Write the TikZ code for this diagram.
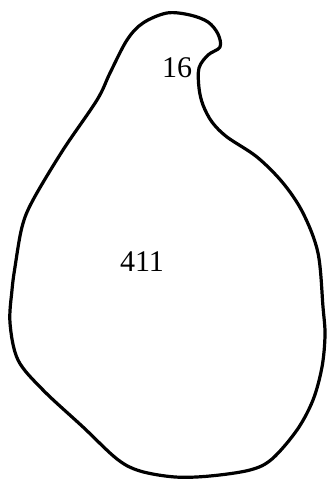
\documentclass[tikz,border=0pt]{standalone}
\usepackage{fontspec}
\setmainfont{Liberation Serif}

\begin{document}
\begin{tikzpicture}[x=1pt,y=-1pt]
    \useasboundingbox (0,0) rectangle (329,480);
    \draw[line width=3.2pt, line join=round] plot[smooth cycle, tension=0.55] coordinates {
        (143,23) (167,13) (190,15) (208,22) (218,34) (220,47) (208,55)
        (199,68) (199,88) (203,105) (212,122) (227,137) (257,157)
        (283,183) (303,213) (318,253) (323,307) (325,335) (322,367)
        (313,400) (297,430) (272,459) (250,470) (210,476) (175,477)
        (140,471) (117,459) (83,427) (43,390) (18,360) (10,323)
        (12,290) (15,267) (22,227) (33,200) (63,150) (97,100)
        (110,73) (127,40)};
    \node (small) at (177,68) {\fontsize{30}{31}\selectfont 16};
    \node (large) at (142,262) {\fontsize{30}{31}\selectfont 411};
\end{tikzpicture}
\end{document}
